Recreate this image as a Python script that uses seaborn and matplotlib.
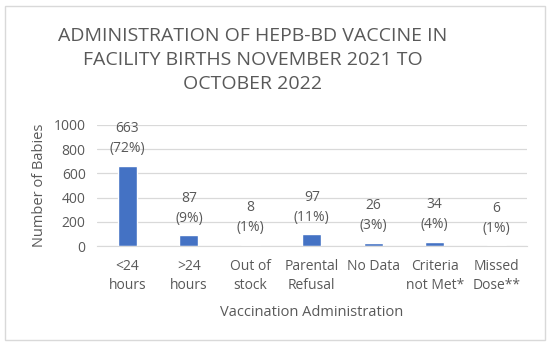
import pandas as pd
import matplotlib.pyplot as plt
import seaborn as sns
from matplotlib.patches import Rectangle

categories = ["<24\nhours", ">24\nhours", "Out of\nstock", "Parental\nRefusal",
              "No Data", "Criteria\nnot Met*", "Missed\nDose**"]
counts = [663, 87, 8, 97, 26, 34, 6]
percents = ["72%", "9%", "1%", "11%", "3%", "4%", "1%"]
yticks = [0, 200, 400, 600, 800, 1000]

df = pd.DataFrame({"Category": categories, "Babies": counts})

sns.set_style("white")
plt.rcParams["font.family"] = ["Open Sans", "DejaVu Sans"]
grey = "#595959"

fig = plt.figure(figsize=(5.5, 3.46), dpi=100)
ax = fig.add_axes([0.176, 0.289, 0.782, 0.35])

sns.barplot(x="Category", y="Babies", data=df, color="#4472C4",
            width=0.31, saturation=1, ax=ax)

ax.set_ylim(0, 1000)
ax.set_yticks(yticks)
ax.yaxis.grid(True, color="#d9d9d9", linewidth=0.9)
ax.set_axisbelow(True)
for s in ["top", "right", "left"]:
    ax.spines[s].set_visible(False)
ax.spines["bottom"].set_color("#d9d9d9")
ax.tick_params(axis="both", length=0, labelsize=10, colors=grey, pad=8)
ax.tick_params(axis="x", pad=9)
for lbl in ax.get_xticklabels():
    lbl.set_linespacing(1.4)
ax.set_xlabel("Vaccination Administration", fontsize=10.5, color=grey, labelpad=9)
ax.set_ylabel("Number of Babies", fontsize=10.5, color=grey, labelpad=5)

# value labels above bars
for i, (c, p) in enumerate(zip(counts, percents)):
    ax.annotate(f"{c}\n({p})", (i, c), xytext=(0, 7), textcoords="offset points",
                ha="center", va="bottom", fontsize=10, color=grey,
                linespacing=1.45, annotation_clip=False)

fig.text(253 / 550, 1 - 60 / 346,
         "ADMINISTRATION OF HEPB-BD VACCINE IN\nFACILITY BIRTHS NOVEMBER 2021 TO\nOCTOBER 2022",
         ha="center", va="center", fontsize=14, color=grey, linespacing=1.45)

# chart border
fig.patches.append(Rectangle((5 / 550, 6 / 346), 540 / 550, 334 / 346,
                             transform=fig.transFigure, fill=False,
                             edgecolor="#d9d9d9", linewidth=1))

fig.savefig("out.png", dpi=100)
